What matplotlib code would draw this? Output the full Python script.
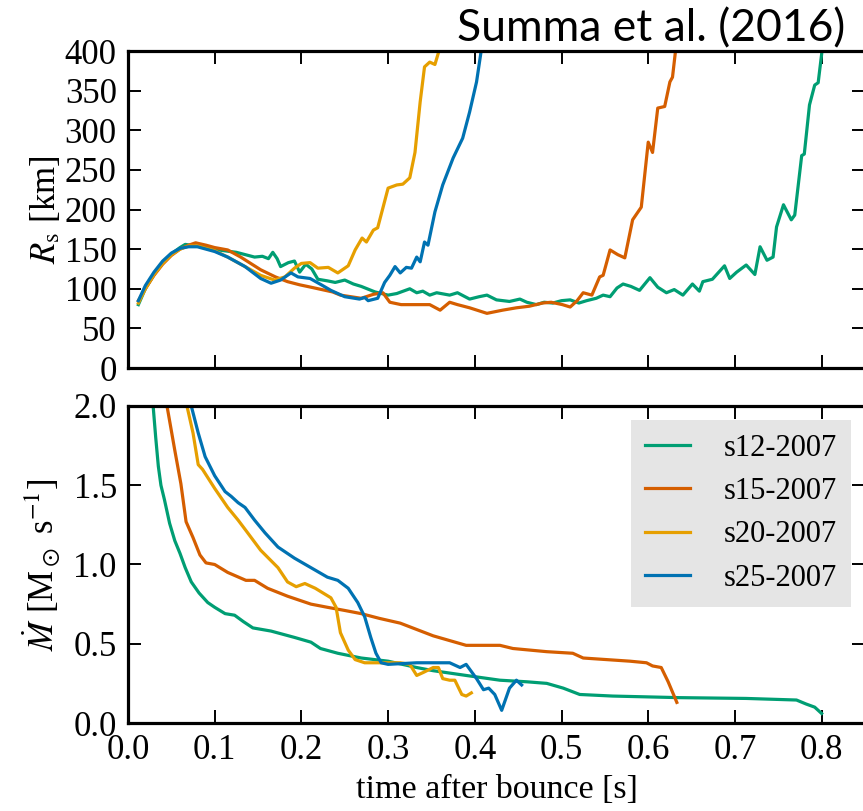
import matplotlib
matplotlib.use("Agg")
import matplotlib.pyplot as plt

plt.rcParams['font.family'] = 'serif'
plt.rcParams['font.serif'] = ['Liberation Serif', 'DejaVu Serif']
plt.rcParams['mathtext.fontset'] = 'stix'

# shock radius R_s [km] vs time after bounce [s]
t_rs_s12 = [0.012, 0.02, 0.03, 0.04, 0.05, 0.06, 0.066, 0.085, 0.104, 0.125, 0.146, 0.155, 0.162, 0.167,
            0.172, 0.176, 0.185, 0.192, 0.198, 0.205, 0.212, 0.219, 0.23, 0.239, 0.25, 0.26, 0.269, 0.285,
            0.30, 0.31, 0.325, 0.333, 0.34, 0.348, 0.356, 0.371, 0.38, 0.394, 0.405, 0.414, 0.425, 0.44,
            0.452, 0.46, 0.471, 0.48, 0.49, 0.50, 0.51, 0.52, 0.529, 0.54, 0.548, 0.556, 0.564, 0.571,
            0.58, 0.59, 0.602, 0.611, 0.621, 0.63, 0.64, 0.651, 0.659, 0.663, 0.674, 0.688, 0.694, 0.702,
            0.713, 0.723, 0.729, 0.737, 0.744, 0.748, 0.756, 0.765, 0.769, 0.777, 0.78, 0.786, 0.792,
            0.796, 0.801]
rs_s12 = [80, 100, 118, 133, 144, 152, 156, 153, 149, 146, 140, 141, 138, 146,
          138, 128, 133, 135, 121, 131, 125, 112, 110, 108, 111, 106, 103, 96,
          92, 94, 100, 95, 97, 92, 95, 92, 95, 87, 90, 92, 86, 84,
          87, 83, 80, 83, 82, 85, 86, 82, 85, 88, 92, 90, 101, 106,
          103, 98, 114, 102, 95, 99, 92, 106, 97, 109, 112, 129, 113, 121,
          130, 118, 153, 136, 140, 178, 206, 187, 193, 268, 270, 332, 357,
          360, 405]

t_rs_s15 = [0.012, 0.02, 0.03, 0.04, 0.05, 0.06, 0.07, 0.078, 0.09, 0.1, 0.115, 0.13, 0.153, 0.17,
            0.184, 0.198, 0.211, 0.236, 0.245, 0.269, 0.283, 0.294, 0.302, 0.315, 0.333, 0.348, 0.36,
            0.371, 0.38, 0.394, 0.414, 0.432, 0.448, 0.463, 0.478, 0.488, 0.501, 0.51, 0.518, 0.525,
            0.535, 0.544, 0.548, 0.556, 0.565, 0.573, 0.582, 0.592, 0.60, 0.605, 0.611, 0.619, 0.625,
            0.628, 0.632]
rs_s15 = [85, 100, 117, 131, 142, 150, 155, 158, 155, 152, 149, 140, 124, 115,
          109, 105, 102, 96, 92, 88, 93, 95, 83, 80, 80, 80, 73,
          83, 80, 76, 69, 73, 76, 78, 82, 83, 80, 77, 85, 95,
          92, 115, 117, 149, 143, 139, 187, 203, 285, 272, 328, 330, 361,
          367, 405]

t_rs_s20 = [0.012, 0.02, 0.03, 0.04, 0.05, 0.06, 0.07, 0.08, 0.1, 0.115, 0.135, 0.153, 0.169, 0.181,
            0.192, 0.2, 0.21, 0.219, 0.231, 0.242, 0.254, 0.262, 0.27, 0.275, 0.283, 0.288, 0.294,
            0.30, 0.31, 0.317, 0.325, 0.331, 0.337, 0.342, 0.348, 0.354, 0.36]
rs_s20 = [82, 100, 118, 132, 143, 150, 154, 154, 148, 140, 128, 117, 111, 115,
          126, 132, 133, 126, 127, 120, 129, 149, 164, 159, 174, 177, 202,
          227, 231, 232, 240, 272, 336, 380, 386, 383, 405]

t_rs_s25 = [0.012, 0.02, 0.03, 0.04, 0.05, 0.06, 0.07, 0.08, 0.1, 0.115, 0.135, 0.153, 0.165, 0.176,
            0.188, 0.196, 0.21, 0.223, 0.234, 0.25, 0.267, 0.273, 0.277, 0.288, 0.296, 0.302, 0.308,
            0.314, 0.321, 0.327, 0.333, 0.337, 0.342, 0.346, 0.354, 0.363, 0.375, 0.386, 0.394, 0.402,
            0.408]
rs_s25 = [85, 104, 121, 135, 145, 151, 153, 153, 147, 140, 128, 113, 107, 111,
          120, 115, 113, 105, 98, 90, 87, 89, 85, 88, 108, 117, 128,
          120, 127, 126, 140, 134, 159, 155, 197, 231, 265, 290, 323, 361,
          405]

# mass accretion rate [M_sun/s]
t_md_s12 = [0.025, 0.029, 0.032, 0.035, 0.038, 0.042, 0.048, 0.054, 0.06, 0.066, 0.073, 0.082, 0.092,
            0.1, 0.112, 0.123, 0.133, 0.144, 0.165, 0.192, 0.211, 0.222, 0.242, 0.269, 0.3, 0.333,
            0.352, 0.39, 0.429, 0.46, 0.483, 0.502, 0.521, 0.559, 0.636, 0.713, 0.771, 0.782, 0.792, 0.8]
md_s12 = [2.4, 2.0, 1.8, 1.62, 1.5, 1.41, 1.26, 1.15, 1.07, 0.98, 0.89, 0.82, 0.76,
          0.73, 0.69, 0.68, 0.64, 0.60, 0.58, 0.54, 0.51, 0.47, 0.44, 0.41, 0.39, 0.35,
          0.33, 0.30, 0.27, 0.26, 0.25, 0.22, 0.18, 0.17, 0.16, 0.155, 0.145, 0.12, 0.10, 0.06]

t_md_s15 = [0.042, 0.045, 0.054, 0.061, 0.067, 0.075, 0.083, 0.09, 0.1, 0.115, 0.136, 0.146, 0.161,
            0.184, 0.211, 0.23, 0.25, 0.269, 0.29, 0.314, 0.333, 0.352, 0.371, 0.39, 0.429, 0.444,
            0.483, 0.513, 0.525, 0.552, 0.579, 0.598, 0.605, 0.615, 0.623, 0.633]
md_s15 = [2.3, 2.0, 1.72, 1.51, 1.27, 1.17, 1.06, 1.01, 1.0, 0.95, 0.90, 0.90, 0.85,
          0.80, 0.75, 0.73, 0.71, 0.69, 0.66, 0.63, 0.59, 0.55, 0.52, 0.49, 0.49, 0.47,
          0.45, 0.44, 0.41, 0.40, 0.39, 0.38, 0.36, 0.35, 0.26, 0.13]

t_md_s20 = [0.065, 0.068, 0.075, 0.081, 0.086, 0.1, 0.115, 0.127, 0.138, 0.153, 0.173, 0.184, 0.194,
            0.204, 0.216, 0.225, 0.234, 0.24, 0.245, 0.254, 0.262, 0.273, 0.288, 0.314, 0.325, 0.333,
            0.341, 0.352, 0.358, 0.363, 0.371, 0.377, 0.385, 0.39, 0.396]
md_s20 = [2.3, 2.0, 1.83, 1.63, 1.60, 1.48, 1.36, 1.28, 1.20, 1.09, 0.98, 0.89, 0.86,
          0.88, 0.85, 0.82, 0.79, 0.73, 0.57, 0.46, 0.40, 0.38, 0.38, 0.38, 0.37, 0.30,
          0.32, 0.35, 0.35, 0.28, 0.27, 0.27, 0.18, 0.17, 0.19]

t_md_s25 = [0.070, 0.073, 0.081, 0.089, 0.1, 0.112, 0.119, 0.127, 0.135, 0.146, 0.158, 0.173, 0.192,
            0.211, 0.23, 0.242, 0.254, 0.265, 0.273, 0.28, 0.286, 0.292, 0.30, 0.333, 0.371, 0.383,
            0.39, 0.402, 0.41, 0.416, 0.423, 0.431, 0.44, 0.448, 0.454]
md_s25 = [2.3, 2.0, 1.83, 1.68, 1.56, 1.46, 1.43, 1.39, 1.36, 1.28, 1.20, 1.11, 1.04,
          0.98, 0.92, 0.90, 0.85, 0.76, 0.67, 0.54, 0.44, 0.38, 0.37, 0.38, 0.38, 0.35,
          0.37, 0.28, 0.21, 0.22, 0.18, 0.08, 0.22, 0.27, 0.24]

models = ['s12-2007', 's15-2007', 's20-2007', 's25-2007']
colors = ['#009E73', '#D55E00', '#E69F00', '#0072B2']

rs_series = [(t_rs_s12, rs_s12), (t_rs_s15, rs_s15), (t_rs_s20, rs_s20), (t_rs_s25, rs_s25)]
md_series = [(t_md_s12, md_s12), (t_md_s15, md_s15), (t_md_s20, md_s20), (t_md_s25, md_s25)]

fig = plt.figure(figsize=(8.63, 8.11), dpi=100)
ax1 = fig.add_axes([0.1483, 0.5462, 0.8540, 0.3909])
ax2 = fig.add_axes([0.1483, 0.1085, 0.8540, 0.3909])

for (t, r), c, name in zip(rs_series, colors, models):
    ax1.plot(t, r, color=c, lw=2.3, label=name)
for (t, m), c, name in zip(md_series, colors, models):
    ax2.plot(t, m, color=c, lw=2.3, label=name)

for ax in (ax1, ax2):
    ax.set_xlim(0, 0.85)
    ax.set_xticks([0.0, 0.1, 0.2, 0.3, 0.4, 0.5, 0.6, 0.7, 0.8])
    ax.tick_params(direction='in', top=True, right=True, length=9.5, width=1.4,
                   labelsize=25, pad=8)
    for sp in ax.spines.values():
        sp.set_linewidth(2.3)

ax1.set_ylim(0, 400)
ax1.set_yticks(range(0, 401, 50))
ax1.tick_params(labelbottom=False)
ax1.set_ylabel(r'$R_\mathrm{s}$ [km]', fontsize=25)
ax1.yaxis.set_label_coords(-0.088, 0.5)

ax2.set_ylim(0, 2.0)
ax2.set_yticks([0.0, 0.5, 1.0, 1.5, 2.0])
ax2.set_ylabel(r'$\dot{M}$ [M$_\odot$ s$^{-1}$]', fontsize=25)
ax2.yaxis.set_label_coords(-0.088, 0.5)
ax2.set_xlabel('time after bounce [s]', fontsize=24.5, labelpad=5)

leg = ax2.legend(loc='upper right', bbox_to_anchor=(0.981, 0.956), borderaxespad=0,
                 fontsize=22, handlelength=1.5, handletextpad=1.1, labelspacing=0.47,
                 borderpad=0.45, fancybox=False)
leg.get_frame().set_facecolor('#e5e5e5')
leg.get_frame().set_edgecolor('none')
leg.get_frame().set_alpha(1)

fig.text(0.979, 0.949, 'Summa et al. (2016)', ha='right', va='baseline', fontsize=32,
         family=['Lato', 'DejaVu Sans'])

fig.savefig('out.png', dpi=100)
